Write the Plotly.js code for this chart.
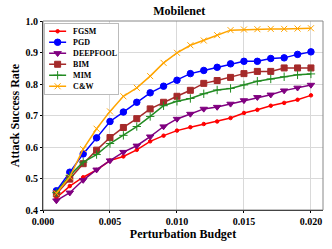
<!DOCTYPE html>
<html><head><meta charset="utf-8">
<script src="https://cdn.plot.ly/plotly-3.0.1.min.js"></script>
<style>html,body{margin:0;padding:0;background:#fff}#chart{width:332px;height:249px}</style>
</head><body><div id="chart"></div>
<script>
var budget = [0.001,0.002,0.003,0.004,0.005,0.006,0.007,0.008,0.009,0.010,0.011,0.012,0.013,0.014,0.015,0.016,0.017,0.018,0.019,0.020];
var fgsm     = [0.439,0.476,0.504,0.527,0.557,0.570,0.591,0.618,0.636,0.652,0.663,0.673,0.681,0.692,0.708,0.718,0.731,0.740,0.750,0.764];
var pgd      = [0.461,0.520,0.578,0.629,0.681,0.711,0.742,0.772,0.793,0.812,0.833,0.843,0.853,0.864,0.872,0.872,0.881,0.883,0.894,0.902];
var deepfool = [0.430,0.455,0.495,0.528,0.557,0.584,0.604,0.633,0.665,0.689,0.705,0.721,0.727,0.737,0.748,0.758,0.766,0.779,0.788,0.797];
var bim      = [0.451,0.498,0.547,0.590,0.630,0.662,0.690,0.721,0.742,0.761,0.780,0.802,0.811,0.821,0.833,0.840,0.840,0.851,0.851,0.851];
var mim      = [0.455,0.510,0.552,0.576,0.611,0.637,0.665,0.697,0.731,0.745,0.754,0.769,0.781,0.786,0.797,0.809,0.816,0.823,0.829,0.832];
var cw       = [0.453,0.505,0.593,0.658,0.713,0.761,0.788,0.825,0.867,0.899,0.923,0.938,0.955,0.971,0.973,0.974,0.975,0.975,0.976,0.977];
var seriesNames = ["FGSM","PGD","DEEPFOOL","BIM","MIM","C&W"];
var xTicks = [0.000,0.005,0.010,0.015,0.020];
var yTicks = [0.4,0.5,0.6,0.7,0.8,0.9,1.0];

var font = "Liberation Serif, Times New Roman, serif";
function tr(name, y, color, symbol, size) {
  return {x: budget, y: y, name: "<b>" + name.replace("&","&amp;") + "</b>", type: "scatter", mode: "lines+markers",
    line: {color: color, width: 1.5},
    marker: {color: color, symbol: symbol, size: size, line: {color: color, width: 1}}};
}
var data = [
  tr(seriesNames[0], fgsm, "#ff0000", "circle", 3.5),
  tr(seriesNames[1], pgd, "#0000ff", "circle", 6.5),
  tr(seriesNames[2], deepfool, "#800080", "triangle-down", 6.5),
  tr(seriesNames[3], bim, "#a52a2a", "square", 6),
  tr(seriesNames[4], mim, "#228b22", "cross-thin", 6),
  tr(seriesNames[5], cw, "#ffa500", "x-thin", 6)
];
var layout = {
  width: 332, height: 249,
  margin: {l: 43, r: 9, t: 21, b: 39},
  paper_bgcolor: "#fff", plot_bgcolor: "#fff",
  font: {family: font, color: "#000"},
  title: {text: "<b>Mobilenet</b>", font: {family: font, size: 12, color: "#000"}, x: 0.54, xanchor: "center", y: 0.955, yanchor: "middle"},
  xaxis: {range: [0, 0.0209], tickvals: xTicks, ticktext: xTicks.map(function(v){return "<b>"+v.toFixed(3)+"</b>";}),
    showgrid: true, gridcolor: "#d9d9d9", gridwidth: 1, zeroline: false,
    showline: true, linecolor: "#000", linewidth: 1, ticks: "outside", ticklen: 2, tickcolor: "#000",
    tickfont: {family: font, size: 10, color: "#000"},
    title: {text: "<b>Perturbation Budget</b>", font: {family: font, size: 12, color: "#000"}, standoff: 2}},
  yaxis: {range: [0.4, 1.0], tickvals: yTicks, ticktext: yTicks.map(function(v){return "<b>"+v.toFixed(1)+"</b>";}),
    showgrid: true, gridcolor: "#d9d9d9", gridwidth: 1, zeroline: false,
    showline: true, linecolor: "#000", linewidth: 1, ticks: "outside", ticklen: 2, tickcolor: "#000",
    tickfont: {family: font, size: 10, color: "#000"},
    title: {text: "<b>Attack Success Rate</b>", font: {family: font, size: 12, color: "#000"}, standoff: 3}},
  shapes: [{type: "rect", xref: "paper", yref: "paper", x0: 0, x1: 1, y0: 0, y1: 1, line: {color: "#888", width: 1}, layer: "above"}],
  legend: {x: 0.004, y: 0.988, xanchor: "left", yanchor: "top", bgcolor: "#fff", bordercolor: "#bbb", borderwidth: 1,
    font: {family: font, size: 8, color: "#000"}, itemwidth: 30, tracegroupgap: 0},
  showlegend: true
};
Plotly.newPlot("chart", data, layout, {staticPlot: true, displayModeBar: false}).then(function(gd){
  // compact the legend to match the reference's tight layout
  var leg = gd.querySelector("g.legend");
  if (!leg) return;
  var items = leg.querySelectorAll("g.traces");
  var step = 11, first = 8;
  items.forEach(function(it, k){
    it.setAttribute("transform", "translate(0," + (first + k*step) + ")");
    var ln = it.querySelector("path.js-line");
    if (ln) ln.setAttribute("d", "M5,0h17");
    var pts = it.querySelectorAll("path.scatterpts");
    pts.forEach(function(p){ p.setAttribute("transform", "translate(13.5,0)"); });
    var tx = it.querySelector("text.legendtext");
    if (tx) tx.setAttribute("x", "29");
  });
  var bg = leg.querySelector("rect.bg");
  if (bg) { bg.setAttribute("width", "74"); bg.setAttribute("height", String(first + (items.length-1)*step + 8)); }
});
</script></body></html>
